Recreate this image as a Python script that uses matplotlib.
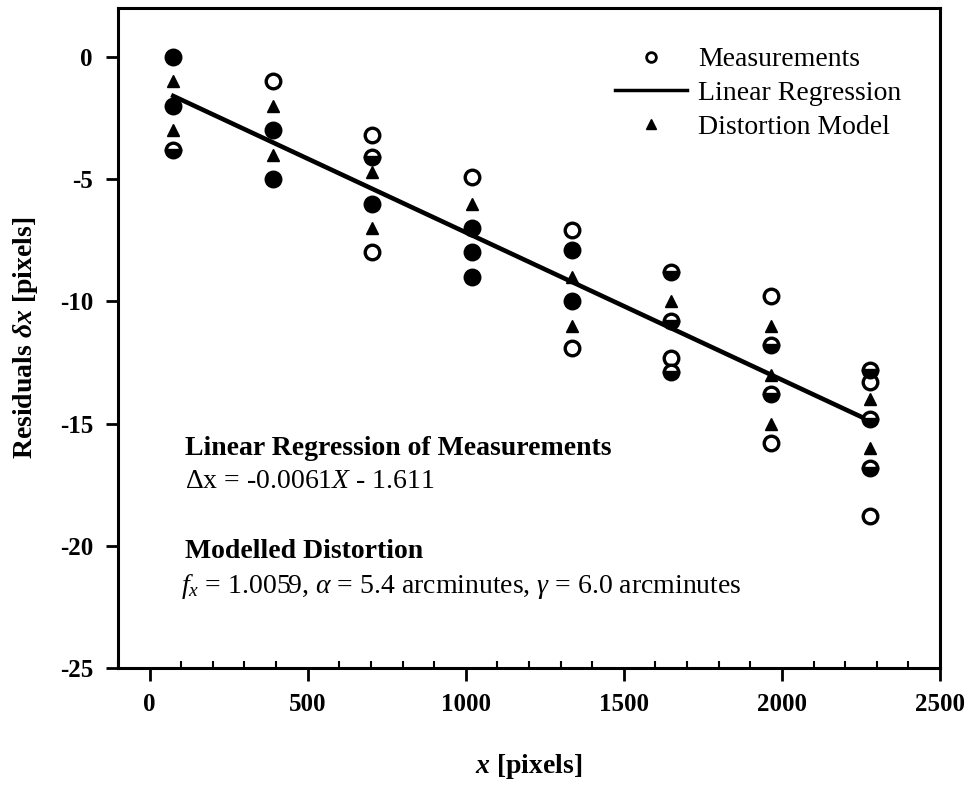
import numpy as np
import matplotlib
matplotlib.use("Agg")
import matplotlib.pyplot as plt
from matplotlib.lines import Line2D

plt.rcParams['font.family'] = ['Liberation Serif', 'DejaVu Serif']
plt.rcParams['mathtext.fontset'] = 'custom'
plt.rcParams['mathtext.rm'] = 'Liberation Serif'
plt.rcParams['mathtext.it'] = 'Liberation Serif:italic'
plt.rcParams['mathtext.bf'] = 'Liberation Serif:italic:bold'
plt.rcParams['axes.unicode_minus'] = False

# measurements drawn as open circles
open_x = [390, 705, 705, 1020, 1335, 1335, 1650, 1965, 1965, 2280, 2280]
open_y = [-1.0, -3.2, -8.0, -4.9, -7.1, -11.9, -12.3, -9.8, -15.8, -13.3, -18.8]
# measurements overlapping other marks (half dark in the scan)
half_x = [75, 705, 1650, 1650, 1650, 1965, 1965, 2280, 2280, 2280]
half_y = [-3.8, -4.1, -8.8, -10.8, -12.9, -11.8, -13.8, -12.8, -14.8, -16.8]
# repeated measurements (solid in the scan)
full_x = [75, 75, 390, 390, 705, 1020, 1020, 1020, 1335, 1335]
full_y = [0.0, -2.0, -3.0, -5.0, -6.0, -7.0, -8.0, -9.0, -7.9, -10.0]
# distortion model
model_x = [75, 75, 390, 390, 705, 705, 1020, 1335, 1335, 1650, 1965, 1965, 1965, 2280, 2280]
model_y = [-1.0, -3.0, -2.0, -4.0, -4.7, -7.0, -6.0, -9.0, -11.0, -10.0, -11.0, -13.0, -15.0, -14.0, -16.0]
# linear regression line end points
reg_x = [75, 2280]
reg_y = [-1.6, -14.9]

fig = plt.figure(figsize=(9.74, 7.85), dpi=100)
ax = fig.add_axes([0.1211, 0.149, 0.844, 0.8408])

ax.plot(reg_x, reg_y, color='black', lw=3.3)
ax.plot(open_x, open_y, 'o', ms=10.5, mfc='white', mec='black', mew=2.4, ls='none')
ax.plot(half_x, half_y, 'o', ms=10.5, mfc='black', mfcalt='white', fillstyle='bottom',
        mec='black', mew=2.4, ls='none')
ax.plot(full_x, full_y, 'o', ms=10.5, mfc='black', mec='black', mew=2.4, ls='none')
ax.plot(model_x, model_y, '^', ms=8.5, color='black', ls='none')

ax.set_xlim(-100, 2500)
ax.set_ylim(-25, 2)
ax.set_xticks(np.arange(0, 2501, 500))
ax.set_xticks(np.arange(-100, 2501, 100), minor=True)
ax.set_yticks(np.arange(-25, 1, 5))
ax.tick_params(axis='both', which='major', direction='out', length=9, width=2,
               labelsize=18, pad=9)
ax.tick_params(axis='x', which='minor', direction='in', length=5, width=1.5)
for lab in ax.get_xticklabels() + ax.get_yticklabels():
    lab.set_fontweight('bold')
for s in ax.spines.values():
    s.set_linewidth(2.2)

ax.set_xlabel(r'$\mathbf{x}$ [pixels]', fontsize=20, fontweight='bold', labelpad=26)
ax.set_ylabel(r'Residuals $\mathbf{\delta x}$ [pixels]', fontsize=20, fontweight='bold',
              labelpad=14)

handles = [
    Line2D([], [], marker='o', ls='none', ms=7, mfc='white', mec='black', mew=2),
    Line2D([], [], color='black', lw=2.5),
    Line2D([], [], marker='^', ls='none', ms=7, color='black'),
]
ax.legend(handles, ['Measurements', 'Linear Regression', 'Distortion Model'],
          loc='upper right', frameon=False, fontsize=20, handlelength=2.6,
          handletextpad=0.4, labelspacing=0.3, borderaxespad=1.0)

tx = 0.081
ax.text(tx, 0.333, 'Linear Regression of Measurements', transform=ax.transAxes,
        fontsize=20, fontweight='bold', va='center')
ax.text(tx, 0.282, r'$\Delta$x = -0.0061$X$ - 1.611', transform=ax.transAxes,
        fontsize=20, va='center')
ax.text(tx, 0.176, 'Modelled Distortion', transform=ax.transAxes,
        fontsize=20, fontweight='bold', va='center')
ax.text(tx - 0.004, 0.124, r'$f_x$ = 1.0059, $\alpha$ = 5.4 arcminutes, $\gamma$ = 6.0 arcminutes',
        transform=ax.transAxes, fontsize=20, va='center')

fig.savefig('out.png', dpi=100)
